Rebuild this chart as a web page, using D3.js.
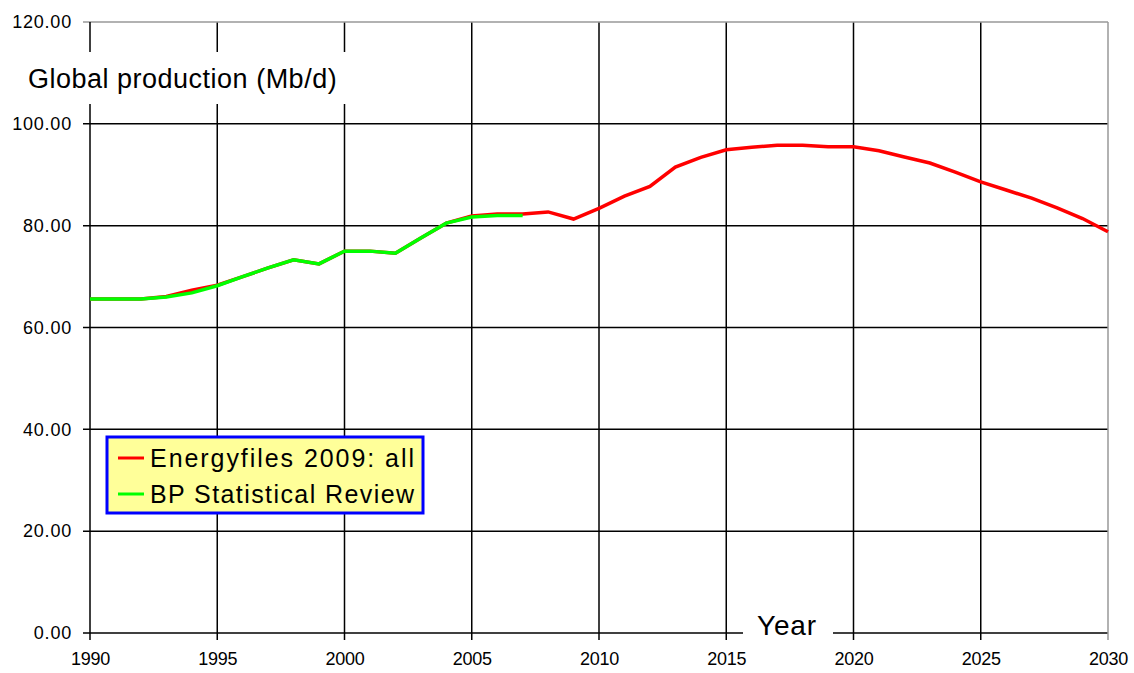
<!DOCTYPE html>
<html>
<head>
<meta charset="utf-8">
<script src="https://cdn.jsdelivr.net/npm/d3@7"></script>
<style>
  body { margin: 0; background: #fff; }
  svg { display: block; font-family: "Liberation Sans", Arial, sans-serif; }
</style>
</head>
<body>
<div id="chart"></div>
<script>
// data
const years = d3.range(1990, 2031);
const energyfiles = [65.6, 65.6, 65.6, 66.1, 67.3, 68.3, 70.0, 71.7, 73.3, 72.5,
  75.0, 75.0, 74.6, 77.6, 80.5, 81.9, 82.3, 82.3, 82.7, 81.3,
  83.4, 85.8, 87.7, 91.5, 93.4, 94.9, 95.4, 95.8, 95.8, 95.5,
  95.5, 94.7, 93.5, 92.3, 90.5, 88.6, 87.0, 85.4, 83.5, 81.4, 78.8];
const bpYears = d3.range(1990, 2008);
const bpReview = [65.6, 65.6, 65.6, 66.0, 66.8, 68.2, 70.0, 71.7, 73.3, 72.5,
  75.0, 75.0, 74.6, 77.6, 80.5, 81.7, 82.0, 82.0];
const xTicks = [1990, 1995, 2000, 2005, 2010, 2015, 2020, 2025, 2030];
const yTicks = [0, 20, 40, 60, 80, 100, 120];
const seriesNames = ["Energyfiles 2009: all", "BP Statistical Review"];
const seriesColors = ["#ff0000", "#00ff00"];

const width = 1134, height = 673;
const svg = d3.select("#chart").append("svg")
  .attr("width", width).attr("height", height);

const x = d3.scaleLinear().domain([1990, 2030]).range([90, 1108]);
const y = d3.scaleLinear().domain([0, 120]).range([633, 22]);

// grid
const grid = svg.append("g");
grid.selectAll("line.v").data(xTicks.slice(1, -1)).join("line")
  .attr("x1", d => x(d)).attr("x2", d => x(d))
  .attr("y1", y(120)).attr("y2", y(0) + 7)
  .attr("stroke", "#000").attr("stroke-width", 1.5);
grid.selectAll("line.h").data(yTicks.slice(0, -1)).join("line")
  .attr("x1", 83).attr("x2", x(2030))
  .attr("y1", d => y(d)).attr("y2", d => y(d))
  .attr("stroke", "#000").attr("stroke-width", 1.5);
// top and right border in grey
svg.append("line").attr("x1", 83).attr("x2", x(2030))
  .attr("y1", y(120)).attr("y2", y(120)).attr("stroke", "#999").attr("stroke-width", 1.5);
svg.append("line").attr("x1", x(2030)).attr("x2", x(2030))
  .attr("y1", y(120)).attr("y2", y(0) + 7).attr("stroke", "#999").attr("stroke-width", 1.5);
// left axis
svg.append("line").attr("x1", x(1990)).attr("x2", x(1990))
  .attr("y1", y(120)).attr("y2", y(0) + 7).attr("stroke", "#000").attr("stroke-width", 1.5);

// axes labels
const yAxis = d3.axisLeft(y).tickValues(yTicks).tickSize(0).tickPadding(18)
  .tickFormat(d3.format(".2f"));
svg.append("g").attr("transform", `translate(${x(1990)},0)`).call(yAxis)
  .call(g => g.select(".domain").remove())
  .selectAll("text").attr("font-size", 18).attr("letter-spacing", 0.8)
  .attr("fill", "#000").attr("font-family", "Liberation Sans, Arial, sans-serif");

const xAxis = d3.axisBottom(x).tickValues(xTicks).tickSize(0).tickPadding(19)
  .tickFormat(d3.format("d"));
svg.append("g").attr("transform", `translate(0,${y(0)})`).call(xAxis)
  .call(g => g.select(".domain").remove())
  .selectAll("text").attr("font-size", 18).attr("letter-spacing", -0.2)
  .attr("fill", "#000").attr("font-family", "Liberation Sans, Arial, sans-serif");

// axis titles with white backgrounds
svg.append("rect").attr("x", 20).attr("y", 52).attr("width", 330).attr("height", 52).attr("fill", "#fff");
svg.append("text").attr("x", 28).attr("y", 88).attr("font-size", 27).attr("letter-spacing", 0.5)
  .attr("fill", "#000").text("Global production (Mb/d)");
svg.append("rect").attr("x", 743).attr("y", 605).attr("width", 90).attr("height", 33).attr("fill", "#fff");
svg.append("text").attr("x", 757).attr("y", 635).attr("font-size", 28).attr("letter-spacing", 0.8)
  .attr("fill", "#000").text("Year");

// series
const line = d3.line().x(d => x(d[0])).y(d => y(d[1]));
svg.append("path").datum(d3.zip(years, energyfiles))
  .attr("d", line).attr("fill", "none")
  .attr("stroke", seriesColors[0]).attr("stroke-width", 3.5);
svg.append("path").datum(d3.zip(bpYears, bpReview))
  .attr("d", line).attr("fill", "none")
  .attr("stroke", seriesColors[1]).attr("stroke-width", 3.5);

// legend
const legend = svg.append("g").attr("transform", "translate(107,437)");
legend.append("rect").attr("width", 316).attr("height", 76)
  .attr("fill", "#ffff99").attr("stroke", "#0000ff").attr("stroke-width", 3);
seriesNames.forEach((name, i) => {
  const row = legend.append("g").attr("transform", `translate(0,${21 + i * 36})`);
  row.append("line").attr("x1", 11).attr("x2", 37).attr("y1", 0).attr("y2", 0)
    .attr("stroke", seriesColors[i]).attr("stroke-width", 3);
  row.append("text").attr("x", 43).attr("y", 0).attr("dy", "0.36em")
    .attr("font-size", 25).attr("textLength", 264).attr("lengthAdjust", "spacing")
    .attr("fill", "#000").text(name);
});
</script>
</body>
</html>
